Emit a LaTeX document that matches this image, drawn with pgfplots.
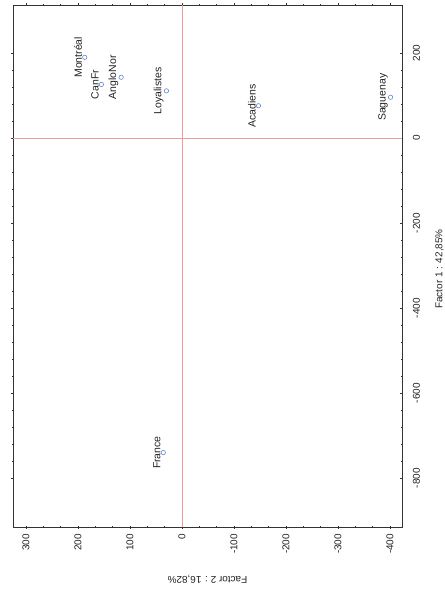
\documentclass[border=0pt]{standalone}
\usepackage{pgfplots}
\pgfplotsset{compat=1.18}
\usepackage{fontspec}
\setmainfont{Liberation Sans}
\definecolor{ptblue}{RGB}{95,135,210}
\definecolor{axred}{RGB}{238,155,155}
\definecolor{txt}{RGB}{35,35,35}
\begin{document}
\begin{tikzpicture}
\begin{axis}[
  scale only axis, width=389bp, height=522bp,
  x dir=reverse,
  xmin=-423, xmax=325, ymin=-915, ymax=313,
  xtick={-400,-300,...,300}, ytick={-800,-600,...,200},
  minor x tick num=2, minor y tick num=4,
  tick align=center, major tick length=3bp, minor tick length=2bp,
  axis line style={line width=0.8pt, black!80},
  every tick/.style={black!80, line width=0.6pt},
  /pgf/number format/assume math mode=true,
  yticklabel pos=right,
  xticklabel style={rotate=90, anchor=east, font=\fontsize{10}{12}\selectfont, text=txt, xshift=-2bp},
  yticklabel style={rotate=90, anchor=north, font=\fontsize{10}{12}\selectfont, text=txt, yshift=-6bp},
  every axis x label/.style={at={(axis description cs:0.5,0)}, rotate=180, anchor=south, yshift=45bp, font=\fontsize{10}{12}\selectfont, text=txt},
  every axis y label/.style={at={(axis description cs:1,0.5)}, rotate=90, anchor=north, yshift=-30bp, xshift=-3bp, font=\fontsize{10}{12}\selectfont, text=txt},
  xlabel={Factor 2 : 16,82\%},
  ylabel={Factor 1 : 42,85\%},
  clip=false,
]
\addplot[axred, line width=0.6pt] coordinates {(0,-915) (0,313)};
\addplot[axred, line width=0.6pt] coordinates {(-423,0) (325,0)};
\addplot[only marks, mark=o, mark size=2.2pt, ptblue, line width=0.6pt,
  point meta=explicit symbolic,
  nodes near coords,
  every node near coord/.append style={rotate=90, anchor=south, text=txt, font=\fontsize{10.5}{12}\selectfont, inner sep=2.5bp}]
  table[meta=label] {
x y label
187 190 Montréal
155 126 CanFr
117 143 AngloNor
30 111 Loyalistes
-147 76 Acadiens
-401 96 Saguenay
36 -740 France
};
\coordinate (bbsw) at (axis description cs:0,0);
\coordinate (bbne) at (axis description cs:1,1);
\end{axis}
\pgfresetboundingbox
\path ([shift={(-13bp,-65bp)}]bbsw) rectangle ([shift={(43bp,5bp)}]bbne);
\end{tikzpicture}
\end{document}
